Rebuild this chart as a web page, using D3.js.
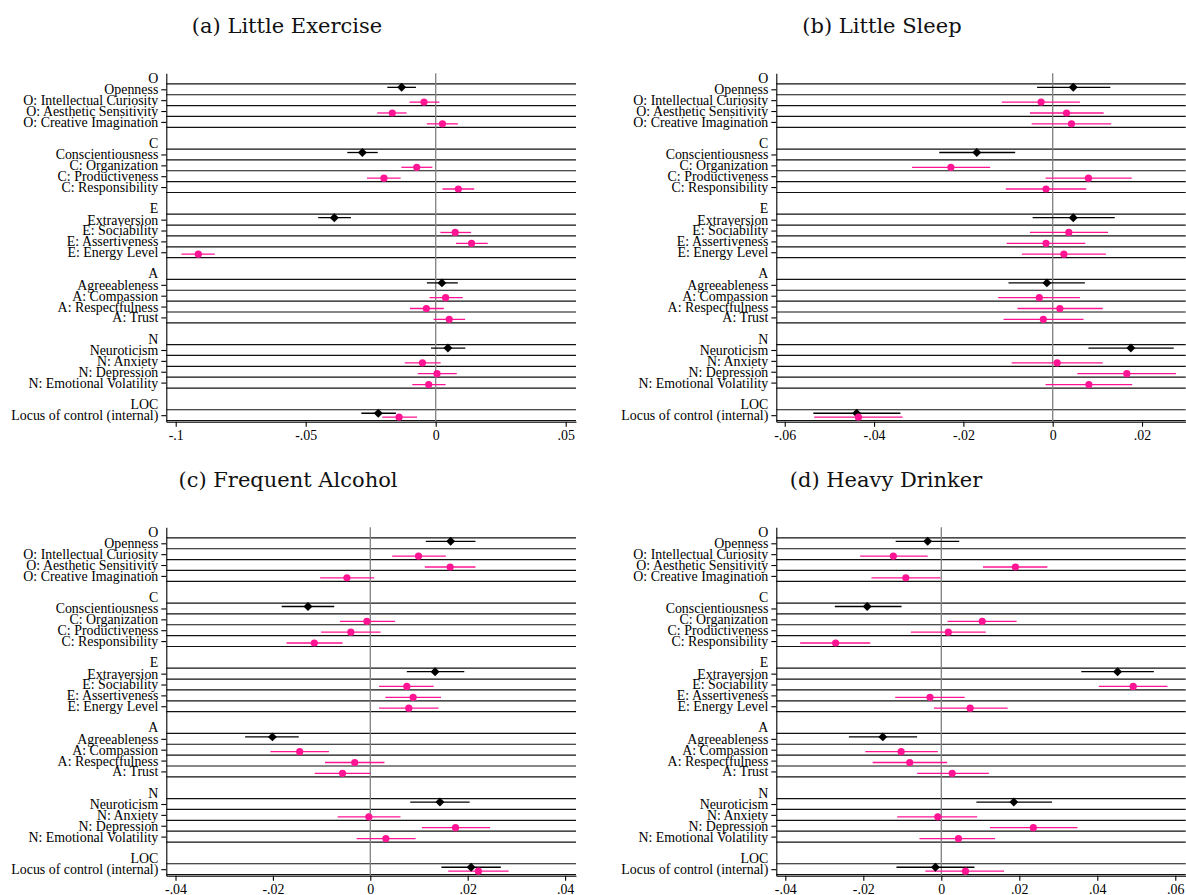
<!DOCTYPE html>
<html>
<head>
<meta charset="utf-8">
<script src="https://cdn.jsdelivr.net/npm/d3@7"></script>
<style>
  html, body { margin: 0; padding: 0; background: #fff; }
  svg { display: block; }
  .lab text { font-family: "Liberation Serif", "Times New Roman", serif; font-size: 13.9px; fill: #000; }
  .title { font-family: "DejaVu Serif", serif; font-size: 21px; fill: #111; }
</style>
</head>
<body>
<svg id="chart" width="1186" height="895"></svg>
<script>
// ---------- Data ----------
const rowLabels = ["O", "Openness", "O: Intellectual Curiosity", "O: Aesthetic Sensitivity", "O: Creative Imagination", "",
  "C", "Conscientiousness", "C: Organization", "C: Productiveness", "C: Responsibility", "",
  "E", "Extraversion", "E: Sociability", "E: Assertiveness", "E: Energy Level", "",
  "A", "Agreeableness", "A: Compassion", "A: Respectfulness", "A: Trust", "",
  "N", "Neuroticism", "N: Anxiety", "N: Depression", "N: Emotional Volatility", "",
  "LOC", "Locus of control (internal)"];
const headerRows = [0, 6, 12, 18, 24, 30];
const traitRows = [1, 7, 13, 19, 25, 31];
const facetRows = [2, 3, 4, 8, 9, 10, 14, 15, 16, 20, 21, 22, 26, 27, 28, 31];

const panelTitles = ["(a) Little Exercise", "(b) Little Sleep", "(c) Frequent Alcohol", "(d) Heavy Drinker"];

// (a) Little Exercise
const exTraitEst = [-0.0131, -0.0282, -0.0390, 0.0024, 0.0047, -0.0221];
const exTraitLo  = [-0.0186, -0.0340, -0.0452, -0.0034, -0.0018, -0.0286];
const exTraitHi  = [-0.0076, -0.0223, -0.0326, 0.0085, 0.0114, -0.0153];
const exFacetEst = [-0.0045, -0.0167, 0.0026, -0.0073, -0.0199, 0.0087, 0.0075, 0.0138, -0.0913, 0.0038, -0.0036, 0.0052, -0.0051, 0.0005, -0.0027, -0.0141];
const exFacetLo  = [-0.0101, -0.0225, -0.0034, -0.0132, -0.0264, 0.0026, 0.0018, 0.0078, -0.0978, -0.0024, -0.0099, -0.0008, -0.0119, -0.0069, -0.0090, -0.0205];
const exFacetHi  = [0.0014, -0.0112, 0.0085, -0.0013, -0.0135, 0.0148, 0.0136, 0.0200, -0.0850, 0.0104, 0.0031, 0.0113, 0.0019, 0.0081, 0.0038, -0.0072];

// (b) Little Sleep
const slTraitEst = [0.0046, -0.0170, 0.0046, -0.0013, 0.0175, -0.0439];
const slTraitLo  = [-0.0035, -0.0254, -0.0045, -0.0099, 0.0080, -0.0536];
const slTraitHi  = [0.0129, -0.0084, 0.0139, 0.0072, 0.0271, -0.0341];
const slFacetEst = [-0.0026, 0.0031, 0.0042, -0.0228, 0.0080, -0.0015, 0.0036, -0.0015, 0.0025, -0.0030, 0.0016, -0.0021, 0.0010, 0.0166, 0.0081, -0.0435];
const slFacetLo  = [-0.0114, -0.0051, -0.0047, -0.0315, -0.0016, -0.0105, -0.0051, -0.0103, -0.0069, -0.0122, -0.0079, -0.0110, -0.0092, 0.0055, -0.0016, -0.0534];
const slFacetHi  = [0.0061, 0.0114, 0.0131, -0.0140, 0.0177, 0.0075, 0.0124, 0.0073, 0.0119, 0.0061, 0.0112, 0.0069, 0.0112, 0.0276, 0.0178, -0.0336];

// (c) Frequent Alcohol
const alTraitEst = [0.0165, -0.0128, 0.0133, -0.0201, 0.0143, 0.0207];
const alTraitLo  = [0.0114, -0.0182, 0.0075, -0.0257, 0.0082, 0.0146];
const alTraitHi  = [0.0216, -0.0074, 0.0193, -0.0147, 0.0204, 0.0268];
const alFacetEst = [0.0099, 0.0164, -0.0048, -0.0007, -0.0040, -0.0115, 0.0075, 0.0088, 0.0079, -0.0145, -0.0032, -0.0057, -0.0003, 0.0175, 0.0032, 0.0222];
const alFacetLo  = [0.0045, 0.0112, -0.0103, -0.0062, -0.0101, -0.0172, 0.0018, 0.0031, 0.0018, -0.0205, -0.0093, -0.0114, -0.0067, 0.0106, -0.0028, 0.0160];
const alFacetHi  = [0.0155, 0.0216, 0.0008, 0.0051, 0.0021, -0.0057, 0.0130, 0.0145, 0.0140, -0.0085, 0.0029, 0.0000, 0.0062, 0.0246, 0.0093, 0.0284];

// (d) Heavy Drinker
const hdTraitEst = [-0.0035, -0.0190, 0.0452, -0.0150, 0.0186, -0.0015];
const hdTraitLo  = [-0.0117, -0.0273, 0.0359, -0.0237, 0.0090, -0.0115];
const hdTraitHi  = [0.0046, -0.0102, 0.0545, -0.0062, 0.0284, 0.0085];
const hdFacetEst = [-0.0123, 0.0190, -0.0091, 0.0105, 0.0018, -0.0271, 0.0492, -0.0029, 0.0074, -0.0103, -0.0081, 0.0028, -0.0009, 0.0236, 0.0044, 0.0062];
const hdFacetLo  = [-0.0208, 0.0107, -0.0179, 0.0016, -0.0078, -0.0362, 0.0404, -0.0118, -0.0019, -0.0195, -0.0176, -0.0062, -0.0113, 0.0125, -0.0056, -0.0041];
const hdFacetHi  = [-0.0035, 0.0272, -0.0002, 0.0193, 0.0114, -0.0182, 0.0580, 0.0060, 0.0170, -0.0009, 0.0015, 0.0122, 0.0092, 0.0349, 0.0138, 0.0161];

// x tick values and labels
const exTicks = [-0.1, -0.05, 0, 0.05];
const exTickLabels = ["-.1", "-.05", "0", ".05"];
const slTicks = [-0.06, -0.04, -0.02, 0, 0.02];
const slTickLabels = ["-.06", "-.04", "-.02", "0", ".02"];
const alTicks = [-0.04, -0.02, 0, 0.02, 0.04];
const alTickLabels = ["-.04", "-.02", "0", ".02", ".04"];
const hdTicks = [-0.04, -0.02, 0, 0.02, 0.04, 0.06];
const hdTickLabels = ["-.04", "-.02", "0", ".02", ".04", ".06"];

// ---------- Layout ----------
const panels = [
  { title: panelTitles[0], tx: 287, ty: 33, left: 166.3, right: 576, top: 73.3, bottom: 421.7, xdom: [-0.10362, 0.05396],
    tEst: exTraitEst, tLo: exTraitLo, tHi: exTraitHi, fEst: exFacetEst, fLo: exFacetLo, fHi: exFacetHi, ticks: exTicks, tickLabels: exTickLabels },
  { title: panelTitles[1], tx: 882, ty: 33, left: 776.3, right: 1185.7, top: 73.3, bottom: 421.7, xdom: [-0.06189, 0.02978],
    tEst: slTraitEst, tLo: slTraitLo, tHi: slTraitHi, fEst: slFacetEst, fLo: slFacetLo, fHi: slFacetHi, ticks: slTicks, tickLabels: slTickLabels },
  { title: panelTitles[2], tx: 288, ty: 487, left: 166.3, right: 576, top: 527.3, bottom: 875.7, xdom: [-0.04189, 0.04224],
    tEst: alTraitEst, tLo: alTraitLo, tHi: alTraitHi, fEst: alFacetEst, fLo: alFacetLo, fHi: alFacetHi, ticks: alTicks, tickLabels: alTickLabels },
  { title: panelTitles[3], tx: 886, ty: 487, left: 776.3, right: 1185.7, top: 527.3, bottom: 875.7, xdom: [-0.04231, 0.06267],
    tEst: hdTraitEst, tLo: hdTraitLo, tHi: hdTraitHi, fEst: hdFacetEst, fLo: hdFacetLo, fHi: hdFacetHi, ticks: hdTicks, tickLabels: hdTickLabels }
];

const PINK = "#ff1493";
const svg = d3.select("#chart");
const diamond = d3.symbol().type(d3.symbolSquare).size(40)();
const OFF = 0.18;

panels.forEach(p => {
  const g = svg.append("g");
  const x = d3.scaleLinear().domain(p.xdom).range([p.left, p.right]);
  const y = d3.scaleLinear().domain([-0.473, 31.6]).range([p.top, p.bottom]);

  g.append("text").attr("class", "title").attr("x", p.tx).attr("y", p.ty)
    .attr("text-anchor", "middle").text(p.title);

  // row separator lines (below every labelled row)
  const lineRows = d3.range(rowLabels.length).filter(i => rowLabels[i] !== "");
  g.append("g").selectAll("line").data(lineRows).join("line")
    .attr("x1", p.left).attr("x2", p.right)
    .attr("y1", d => y(d + 0.5)).attr("y2", d => y(d + 0.5))
    .attr("stroke", "#111").attr("stroke-width", 1.2);

  // zero reference line
  g.append("line").attr("x1", x(0)).attr("x2", x(0)).attr("y1", p.top).attr("y2", p.bottom)
    .attr("stroke", "#808080").attr("stroke-width", 1.3);

  const traits = traitRows.map((r, i) => ({ r: r - OFF, est: p.tEst[i], lo: p.tLo[i], hi: p.tHi[i] }));
  const facets = facetRows.map((r, i) => ({ r: r + OFF, est: p.fEst[i], lo: p.fLo[i], hi: p.fHi[i] }));

  // CIs
  g.append("g").selectAll("line").data(traits).join("line")
    .attr("x1", d => x(d.lo)).attr("x2", d => x(d.hi))
    .attr("y1", d => y(d.r)).attr("y2", d => y(d.r))
    .attr("stroke", "#000").attr("stroke-width", 1.3);
  g.append("g").selectAll("line").data(facets).join("line")
    .attr("x1", d => x(d.lo)).attr("x2", d => x(d.hi))
    .attr("y1", d => y(d.r)).attr("y2", d => y(d.r))
    .attr("stroke", PINK).attr("stroke-width", 1.3);

  // markers
  g.append("g").selectAll("path").data(traits).join("path")
    .attr("d", diamond)
    .attr("transform", d => `translate(${x(d.est)},${y(d.r)}) rotate(45)`)
    .attr("fill", "#000");
  g.append("g").selectAll("circle").data(facets).join("circle")
    .attr("cx", d => x(d.est)).attr("cy", d => y(d.r)).attr("r", 3.6)
    .attr("fill", PINK);

  // y axis
  const itemRows = d3.range(rowLabels.length).filter(i => rowLabels[i] !== "" && !headerRows.includes(i));
  const ya = g.append("g").attr("class", "lab").attr("transform", `translate(${p.left},0)`)
    .call(d3.axisLeft(y).tickValues(itemRows).tickSize(5).tickSizeOuter(0).tickPadding(3)
      .tickFormat(i => rowLabels[i]));
  ya.selectAll("path, line").attr("stroke", "#000").attr("stroke-width", 1.1);
  ya.selectAll("text").attr("font-family", null).attr("font-size", null);

  // headers
  g.append("g").attr("class", "lab").selectAll("text").data(headerRows).join("text")
    .attr("x", p.left - 8).attr("y", d => y(d)).attr("dy", "0.32em")
    .attr("text-anchor", "end").text(d => rowLabels[d]);

  // x axis
  const xa = g.append("g").attr("class", "lab").attr("transform", `translate(0,${p.bottom})`)
    .call(d3.axisBottom(x).tickValues(p.ticks).tickSize(5).tickSizeOuter(0).tickPadding(3)
      .tickFormat((d, i) => p.tickLabels[i]));
  xa.selectAll("path, line").attr("stroke", "#000").attr("stroke-width", 1.1);
  xa.selectAll("text").attr("font-family", null).attr("font-size", null);
});
</script>
</body>
</html>
